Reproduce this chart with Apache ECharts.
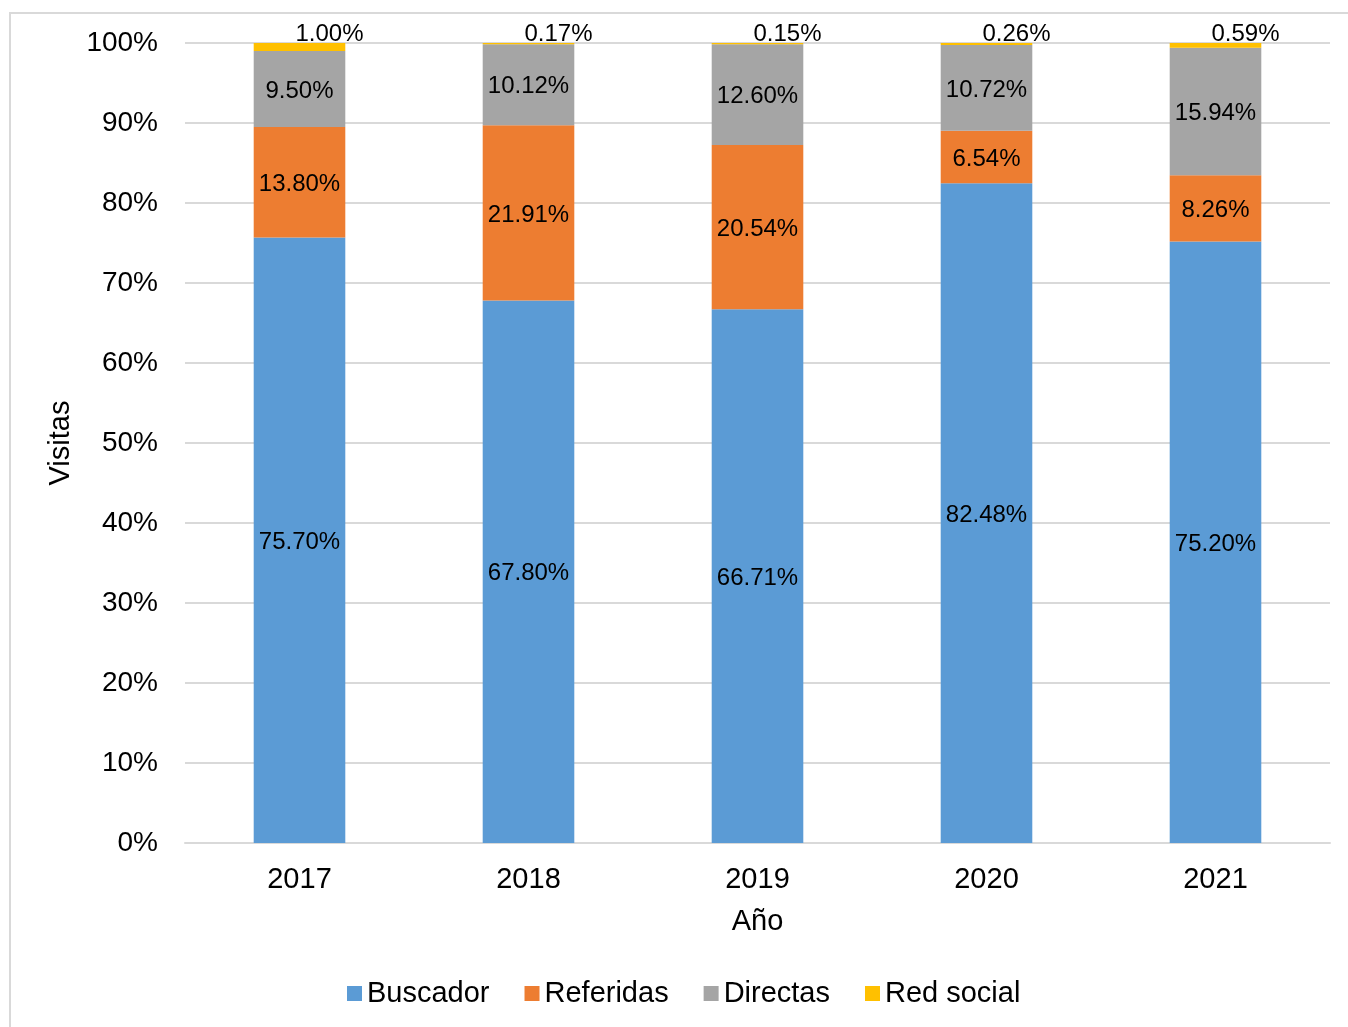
<!DOCTYPE html>
<html>
<head>
<meta charset="utf-8">
<script src="https://cdn.jsdelivr.net/npm/echarts@6/dist/echarts.min.js"></script>
<style>
  html, body { margin: 0; padding: 0; background: #fff; }
  #chart { width: 1348px; height: 1027px; }
</style>
</head>
<body>
<div id="chart"></div>
<script>
const years = ['2017', '2018', '2019', '2020', '2021'];
const buscador = [75.70, 67.80, 66.71, 82.48, 75.20];
const referidas = [13.80, 21.91, 20.54, 6.54, 8.26];
const directas = [9.50, 10.12, 12.60, 10.72, 15.94];
const redSocial = [1.00, 0.17, 0.15, 0.26, 0.59];
const yTicks = [0, 10, 20, 30, 40, 50, 60, 70, 80, 90, 100];

const FONT = '"Liberation Sans", Arial, sans-serif';
const fmt = (p) => p.value.toFixed(2) + '%';

const makeSeries = (name, data, color, top) => ({
    name: name,
    type: 'bar',
    stack: 'total',
    data: data,
    barWidth: '40%',
    itemStyle: { color: color },
    label: top ? {
        show: true,
        position: 'top',
        distance: 0,
        offset: [30, 3],
        formatter: fmt,
        color: '#000',
        fontSize: 24,
        fontFamily: FONT
    } : {
        show: true,
        position: 'inside',
        offset: [0, 2],
        formatter: fmt,
        color: '#000',
        fontSize: 24,
        fontFamily: FONT
    }
});

const chart = echarts.init(document.getElementById('chart'));
chart.setOption({
    animation: false,
    textStyle: { fontFamily: FONT },
    graphic: [{
        type: 'rect',
        shape: { x: 10, y: 13, width: 1400, height: 1100 },
        style: { fill: 'none', stroke: '#d9d9d9', lineWidth: 2 },
        silent: true
    }],
    grid: { left: 185, right: 18, top: 43, bottom: 184 },
    legend: {
        bottom: 14,
        left: 342,
        itemWidth: 15,
        itemHeight: 15,
        itemGap: 35,
        icon: 'rect',
        textStyle: { fontSize: 29, color: '#000', fontFamily: FONT, padding: [4, 0, 0, 0] }
    },
    xAxis: {
        type: 'category',
        data: years,
        name: 'Año',
        nameLocation: 'middle',
        nameGap: 64,
        nameTextStyle: { fontSize: 29, color: '#000', fontFamily: FONT },
        axisLine: { lineStyle: { color: '#d9d9d9', width: 2 } },
        axisTick: { show: false },
        axisLabel: { fontSize: 29, color: '#000', margin: 22, fontFamily: FONT }
    },
    yAxis: {
        type: 'value',
        min: yTicks[0],
        max: yTicks[yTicks.length - 1],
        interval: 10,
        name: 'Visitas',
        nameLocation: 'middle',
        nameGap: 110,
        nameTextStyle: { fontSize: 29, color: '#000', fontFamily: FONT },
        axisLine: { show: false },
        axisTick: { show: false },
        splitLine: { lineStyle: { color: '#d9d9d9', width: 2 } },
        axisLabel: { fontSize: 28, color: '#000', margin: 27, formatter: '{value}%', fontFamily: FONT, padding: [4, 0, 0, 0] }
    },
    series: [
        makeSeries('Buscador', buscador, '#5b9bd5', false),
        makeSeries('Referidas', referidas, '#ed7d31', false),
        makeSeries('Directas', directas, '#a5a5a5', false),
        makeSeries('Red social', redSocial, '#ffc000', true)
    ]
});
</script>
</body>
</html>
